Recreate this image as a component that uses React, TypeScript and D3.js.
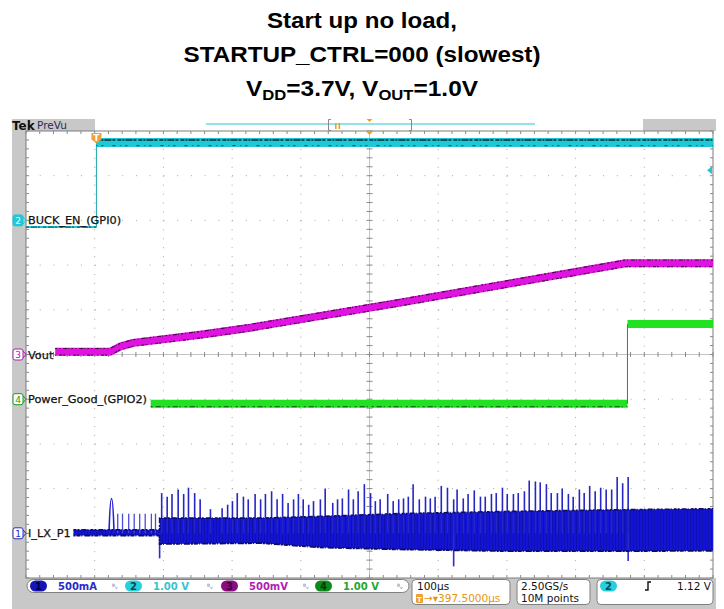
import * as d3 from "d3";

// ---- scope settings ----
const timeRange = [-102.5, 897.5]; // µs, 100 µs/div, trigger at t = 0
const divRange = [-5, 5]; // vertical divisions
const chScale = { ch1: 500, ch2: 1, ch3: 0.5, ch4: 1 }; // units / div
const chOffset = { ch1: -4, ch2: 3, ch3: 0, ch4: -1 }; // ground position, div

// ---- CH2 BUCK_EN (V) ----
const enLowTime = [-102.5, 0];
const enLowVolt = [-0.15, -0.15];
const enHighTime = [0, 897.5];
const enHighVolt = [1.74, 1.74];

// ---- CH3 Vout (V) ----
const voutTime = [-60, 20, 35, 54, 151, 224, 442, 770, 897.5];
const voutVolt = [0.03, 0.03, 0.09, 0.13, 0.22, 0.3, 0.58, 1.02, 1.02];

// ---- CH4 Power_Good (V) ----
const pgLowTime = [79, 773];
const pgLowVolt = [-0.1, -0.1];
const pgHighTime = [773, 897.5];
const pgHighVolt = [1.68, 1.68];

// ---- CH1 I_LX_P1 (mA) envelope ----
const ilxTime = [-33.5, 92, 92, 240, 330, 440, 600, 777, 897.5];
const ilxUpper = [40, 40, 170, 170, 190, 220, 245, 265, 275];
const ilxLower = [-25, -25, -120, -110, -160, -180, -200, -200, -195];

const pulseTime = [22];
const pulsePeak = [390];
const smallSpikeTime = [31, 38, 47, 55, 63, 71, 80, 86];
const smallSpikePeak = [220, 220, 220, 220, 220, 220, 220, 220];

const spikeTime = [
  95, 103, 110, 119, 127, 134, 143, 151, 166, 183, 191, 198, 205, 214, 221, 231,
  239, 246, 255, 263, 271, 279, 287, 294, 301, 309, 316, 326, 333, 344, 351, 358,
  367, 374, 381, 390, 399, 406, 413, 424, 432, 440, 447, 454, 461, 470, 479, 486,
  493, 502, 511, 520, 525, 534, 541, 550, 559, 566, 575, 582, 591, 598, 607, 614,
  623, 630, 639, 646, 655, 662, 671, 678, 687, 694, 703, 710, 718, 726, 734, 742,
  750, 758, 766, 774,
];
const spikePeak = [
  450, 410, 440, 490, 440, 510, 450, 380, 270, 280, 320, 360, 450, 410, 380, 440,
  380, 440, 470, 380, 440, 340, 380, 440, 380, 320, 360, 380, 500, 340, 380, 390,
  490, 380, 470, 550, 450, 360, 380, 440, 360, 380, 390, 410, 550, 380, 410, 390,
  410, 530, 510, 380, 490, 390, 440, 480, 410, 410, 440, 450, 510, 440, 440, 450,
  470, 590, 580, 570, 550, 450, 450, 500, 440, 410, 490, 450, 530, 470, 510, 490,
  490, 630, 560, 630,
];
const dipTime = [92, 520, 774];
const dipPeak = [-280, -370, -310];

// ---- readouts ----
const chReadouts = [
  { n: "1", text: "500mA", badge: "#1616b8", num: "#00004a", color: "#2a2ac8", x: 30 },
  { n: "2", text: "1.00 V", badge: "#28d0dc", num: "#004a55", color: "#34c4d2", x: 125 },
  { n: "3", text: "500mV", badge: "#8c0c84", num: "#3a0036", color: "#b020b0", x: 221 },
  { n: "4", text: "1.00 V", badge: "#0e8a1a", num: "#003a08", color: "#22a830", x: 315 },
];
const titleLines = ["Start up no load,", "STARTUP_CTRL=000 (slowest)"];

// ---- layout ----
const W = 724;
const H = 609;
const gx0 = 26;
const gx1 = 713;
const gy0 = 131;
const gy1 = 578;

export default function App() {
  const x = d3.scaleLinear().domain(timeRange).range([gx0, gx1]);
  const dv = d3.scaleLinear().domain(divRange).range([gy1, gy0]);
  const yCh = (ch: keyof typeof chScale) => (v: number) => dv(v / chScale[ch] + chOffset[ch]);
  const y1 = yCh("ch1");
  const y2 = yCh("ch2");
  const y3 = yCh("ch3");
  const y4 = yCh("ch4");

  const mk = (times: number[], y: (v: number) => number) =>
    d3
      .line<number>()
      .x((_, i) => x(times[i]))
      .y((v) => y(v));

  const ilxArea = d3
    .area<number>()
    .x((_, i) => x(ilxTime[i]))
    .y0((_, i) => y1(ilxLower[i]))
    .y1((_, i) => y1(ilxUpper[i]));
  const ilxUp = mk(ilxTime, y1)(ilxUpper) || "";
  const ilxLo = mk(ilxTime, y1)(ilxLower) || "";

  const minorX = (gx1 - gx0) / 50;
  const minorY = (gy1 - gy0) / 50;
  const cx = (gx0 + gx1) / 2;
  const cy = (gy0 + gy1) / 2;
  const majX = d3.range(1, 10).filter((i) => i !== 5).map((i) => gx0 + i * minorX * 5);
  const majY = d3.range(1, 10).filter((i) => i !== 5).map((i) => gy0 + i * minorY * 5);
  const ticksX = d3.range(0, 51).map((i) => gx0 + i * minorX);
  const ticksY = d3.range(0, 51).map((i) => gy0 + i * minorY);

  const mono = "DejaVu Sans, Verdana, sans-serif";
  const grid = "#a4a4a4";
  const trigX = x(0);

  const vout = mk(voutTime, y3)(voutVolt) || "";
  const enHigh = mk(enHighTime, y2)(enHighVolt) || "";
  const enLow = mk(enLowTime, y2)(enLowVolt) || "";
  const pgLow = mk(pgLowTime, y4)(pgLowVolt) || "";
  const pgHigh = mk(pgHighTime, y4)(pgHighVolt) || "";

  return (
    <svg
      width={W}
      height={H}
      style={{ position: "absolute", left: 0, top: 0, background: "#fff" }}
    >
      <defs>
        <pattern id="stripe" width="3" height="6" patternUnits="userSpaceOnUse">
          <rect width="3" height="6" fill="#1414d6" />
          <rect width="1" height="6" fill="#0c0c8c" opacity="0.55" />
        </pattern>
      </defs>

      {/* title */}
      <g
        fontFamily="Liberation Sans, Arial, sans-serif"
        fontWeight="bold"
        fontSize={22}
        textAnchor="middle"
        fill="#000"
      >
        <text x={362} y={28} textLength={190} lengthAdjust="spacingAndGlyphs">
          {titleLines[0]}
        </text>
        <text x={362} y={62} textLength={357} lengthAdjust="spacingAndGlyphs">
          {titleLines[1]}
        </text>
        <text x={362} y={96} textLength={232} lengthAdjust="spacingAndGlyphs">
          V<tspan fontSize={15} dy={4}>DD</tspan>
          <tspan dy={-4}>=3.7V, V</tspan>
          <tspan fontSize={15} dy={4}>OUT</tspan>
          <tspan dy={-4}>=1.0V</tspan>
        </text>
      </g>

      {/* bezel */}
      <rect x={12} y={119} width={14} height={H - 119} fill="#c8c8c8" />
      <rect x={12} y={578} width={704} height={H - 578} fill="#c8c8c8" />
      <rect x={12} y={119} width={83} height={12} fill="#c8c8c8" />
      <rect x={643} y={119} width={73} height={12} fill="#c8c8c8" />
      <text x={12} y={130} fontFamily={mono} fontWeight="bold" fontSize={12} fill="#111">
        Tek
      </text>
      <text x={37} y={129} fontFamily={mono} fontSize={10.5} fill="#2a2a55">
        PreVu
      </text>

      {/* record view */}
      <line x1={206} x2={535} y1={124} y2={124} stroke="#6cd8e2" strokeWidth={1.5} />
      <path d="M331,119.5 H328.5 V130.5 H331 M409,119.5 H411.5 V130.5 H409" fill="none" stroke="#888" />
      <rect x={335} y={123} width={1.6} height={6} fill="#f0a020" />
      <rect x={338.5} y={123} width={1.6} height={6} fill="#f0a020" />
      <path d={`M${cx - 3},119 H${cx + 3} L${cx},122 Z`} fill="#f0a020" />

      {/* graticule */}
      <rect x={gx0} y={gy0} width={gx1 - gx0} height={gy1 - gy0} fill="#fff" stroke="#7c7c7c" />
      {majX.map((gx, i) => (
        <line
          key={"vx" + i}
          x1={gx}
          x2={gx}
          y1={gy0}
          y2={gy1}
          stroke={grid}
          strokeDasharray={`1 ${minorY - 1}`}
        />
      ))}
      {majY.map((gy, i) => (
        <line
          key={"hy" + i}
          x1={gx0}
          x2={gx1}
          y1={gy}
          y2={gy}
          stroke={grid}
          strokeDasharray={`1 ${minorX - 1}`}
        />
      ))}
      <line x1={gx0} x2={gx1} y1={cy} y2={cy} stroke="#b4b4b4" strokeWidth={0.8} />
      <line x1={cx} x2={cx} y1={gy0} y2={gy1} stroke="#b4b4b4" strokeWidth={0.8} />
      {ticksX.map((tx, i) => (
        <g key={"tx" + i} stroke="#8a8a8a">
          <line x1={tx} x2={tx} y1={gy0} y2={gy0 + 3} />
          <line x1={tx} x2={tx} y1={gy1 - 3} y2={gy1} />
          <line x1={tx} x2={tx} y1={cy - 2.5} y2={cy + 2.5} />
        </g>
      ))}
      {ticksY.map((ty, i) => (
        <g key={"ty" + i} stroke="#8a8a8a">
          <line x1={gx0} x2={gx0 + 3} y1={ty} y2={ty} />
          <line x1={gx1 - 3} x2={gx1} y1={ty} y2={ty} />
          <line x1={cx - 3} x2={cx + 3} y1={ty} y2={ty} />
        </g>
      ))}
      <path d={`M${cx - 4},${gy0} H${cx + 4} L${cx},${gy0 + 4} Z`} fill="#f0a020" />

      {/* CH1 I_LX_P1 */}
      <path d={ilxArea(ilxUpper) || ""} fill="url(#stripe)" />
      {spikeTime.map((t, i) => (
        <line
          key={"sp" + i}
          x1={x(t)}
          x2={x(t)}
          y1={y1(0)}
          y2={y1(spikePeak[i])}
          stroke="#2626c4"
          strokeWidth={1.6}
        />
      ))}
      {smallSpikeTime.map((t, i) => (
        <line
          key={"ss" + i}
          x1={x(t)}
          x2={x(t)}
          y1={y1(0)}
          y2={y1(smallSpikePeak[i])}
          stroke="#4a4ade"
          strokeWidth={1.3}
        />
      ))}
      {pulseTime.map((t, i) => (
        <path
          key={"pu" + i}
          d={`M${x(t) - 2.5},${y1(0)} Q${x(t) - 1.5},${y1(pulsePeak[i])} ${x(t)},${y1(pulsePeak[i])} Q${x(t) + 1.5},${y1(pulsePeak[i])} ${x(t) + 2.5},${y1(0)}`}
          fill="none"
          stroke="#2020d0"
          strokeWidth={1.6}
        />
      ))}
      {dipTime.map((t, i) => (
        <line
          key={"dp" + i}
          x1={x(t)}
          x2={x(t)}
          y1={y1(0)}
          y2={y1(dipPeak[i])}
          stroke="#2b2bcf"
          strokeWidth={1.6}
        />
      ))}
      <path d={ilxUp} fill="none" stroke="#0c0c66" strokeWidth={1.6} strokeDasharray="3 1 2 2 5 1 1 2" />
      <path d={ilxLo} fill="none" stroke="#0c0c66" strokeWidth={1.8} strokeDasharray="2 1 4 1 1 2 6 1" />

      {/* CH4 Power_Good */}
      <path d={pgLow} fill="none" stroke="#22e022" strokeWidth={8} />
      <path d={pgLow} fill="none" stroke="#0c6a0c" strokeWidth={1.2} strokeDasharray="2 3 5 2 1 4" transform="translate(0,3)" />
      <path d={pgHigh} fill="none" stroke="#22e022" strokeWidth={8} />
      <line x1={x(pgHighTime[0])} x2={x(pgHighTime[0])} y1={y4(pgLowVolt[1])} y2={y4(pgHighVolt[0])} stroke="#1a9a1a" strokeWidth={1} />

      {/* CH3 Vout */}
      <path d={vout} fill="none" stroke="#e014e0" strokeWidth={8} strokeLinejoin="round" />
      <path d={vout} fill="none" stroke="#4a0a4a" strokeWidth={1.2} strokeDasharray="2 2 1 3 4 1 1 2" transform="translate(0,-3.3)" />
      <path d={vout} fill="none" stroke="#4a0a4a" strokeWidth={1.2} strokeDasharray="1 3 3 1 2 4" transform="translate(0,3.3)" />

      {/* CH2 BUCK_EN */}
      <path d={enLow} fill="none" stroke="#1ec8d6" strokeWidth={2} />
      <path d={enLow} fill="none" stroke="#0b4e55" strokeWidth={1} strokeDasharray="3 2 6 1 2 3" />
      <line x1={trigX} x2={trigX} y1={y2(enLowVolt[1])} y2={y2(enHighVolt[0])} stroke="#1aa8b4" strokeWidth={1} />
      <path d={enHigh} fill="none" stroke="#1ec8d6" strokeWidth={9} />
      <path d={enHigh} fill="none" stroke="#0b4e55" strokeWidth={2} strokeDasharray="4 1 2 1 7 1 3 2" transform="translate(0,-2.5)" />
      <path d={enHigh} fill="none" stroke="#0b4e55" strokeWidth={1} strokeDasharray="1 4 2 9 3 5" transform="translate(0,3)" />

      {/* trigger markers */}
      <path
        d={`M${trigX - 5},${gy0 + 2} h10 v6.5 l-5,4 l-5,-4 Z`}
        fill="#f0a030"
      />
      <text x={trigX} y={gy0 + 10} textAnchor="middle" fontFamily={mono} fontWeight="bold" fontSize={9} fill="#fff">
        T
      </text>
      <path d={`M${gx1 - 1},${y2(1.12) - 4} V${y2(1.12) + 4} L${gx1 - 6},${y2(1.12)} Z`} fill="#1ec8d6" />

      {/* channel markers & labels */}
      {[
        { n: "2", y: y2(0), c: "#1ec8d6", fill: true, label: "BUCK_EN_(GPI0)" },
        { n: "3", y: y3(0), c: "#b020b0", fill: false, label: "Vout" },
        { n: "4", y: y4(0), c: "#1a9a1a", fill: false, label: "Power_Good_(GPIO2)" },
        { n: "1", y: y1(0), c: "#2a2ac8", fill: false, label: "I_LX_P1" },
      ].map((m) => (
        <g key={"m" + m.n}>
          <rect
            x={13}
            y={m.y - 5.5}
            width={10}
            height={11}
            rx={2}
            fill={m.fill ? m.c : "#fff"}
            stroke={m.c}
          />
          <path d={`M23,${m.y - 3.5} L26,${m.y} L23,${m.y + 3.5}`} fill="none" stroke={m.c} />
          <text x={18} y={m.y + 3.5} textAnchor="middle" fontFamily={mono} fontSize={9} fill={m.fill ? "#fff" : m.c}>
            {m.n}
          </text>
          <text x={28} y={m.y + 4} fontFamily={mono} fontSize={11.3} fill="#111" stroke="#111" strokeWidth={0.25}>
            {m.label}
          </text>
        </g>
      ))}

      {/* readouts */}
      <rect x={27} y={579.5} width={382} height={13} rx={6.5} fill="#fff" stroke="#808080" />
      {chReadouts.map((r) => (
        <g key={"r" + r.n} fontFamily={mono} fontWeight="bold" fontSize={10}>
          <rect x={r.x} y={580.5} width={17} height={11} rx={5.5} fill={r.badge} />
          <text x={r.x + 8.5} y={589.5} textAnchor="middle" fill={r.num}>
            {r.n}
          </text>
          <text x={r.x + 28} y={590} fill={r.color}>
            {r.text}
          </text>
          <text x={r.x + 82} y={589} fontSize={7} fontWeight="normal" fill="#6a6aa0">
            ᴮᵥ
          </text>
        </g>
      ))}
      <rect x={412} y={579.5} width={98} height={25} rx={4} fill="#fff" stroke="#808080" />
      <rect x={517} y={579.5} width={73} height={25} rx={4} fill="#fff" stroke="#808080" />
      <rect x={597} y={579.5} width={116} height={25} rx={4} fill="#fff" stroke="#808080" />
      <g fontFamily={mono} fontSize={10.5} fill="#111">
        <text x={417} y={590}>100µs</text>
        <rect x={416} y={594} width={7} height={9} rx={1} fill="#f0a030" />
        <text x={419.5} y={601.5} textAnchor="middle" fontSize={7} fontWeight="bold" fill="#fff">
          T
        </text>
        <text x={424} y={602} fill="#e8940e">
          →▾397.5000µs
        </text>
        <text x={521} y={590}>2.50GS/s</text>
        <text x={521} y={602}>10M points</text>
        <rect x={600} y={580.5} width={17} height={11} rx={5.5} fill="#28d0dc" />
        <text x={608.5} y={589.5} textAnchor="middle" fontWeight="bold" fontSize={10} fill="#004a55">
          2
        </text>
        <path d="M645,590 h3 v-8 h3" fill="none" stroke="#111" strokeWidth={1.4} />
        <text x={711} y={590} textAnchor="end">1.12 V</text>
      </g>
    </svg>
  );
}
